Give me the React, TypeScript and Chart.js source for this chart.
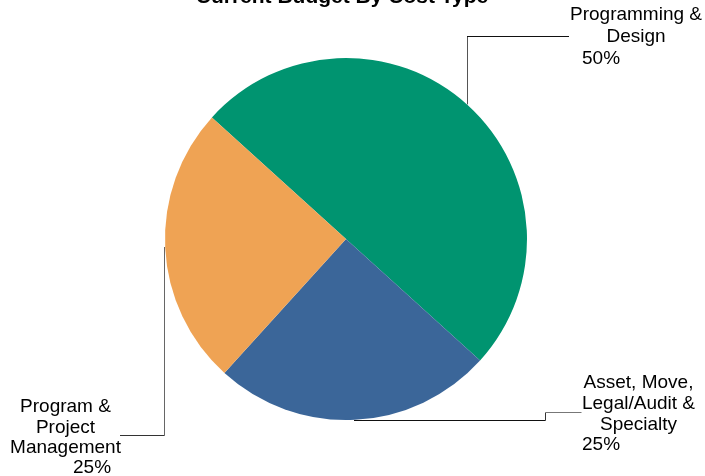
import React, { useEffect, useRef } from "react";
import { Chart, registerables } from "chart.js";

Chart.register(...registerables);

const titleText = "Current Budget By Cost Type";
const categories = [
  "Programming & Design",
  "Asset, Move, Legal/Audit & Specialty",
  "Program & Project Management",
];
const categoryLines = [
  ["Programming &", "Design"],
  ["Asset, Move,", "Legal/Audit &", "Specialty"],
  ["Program &", "Project", "Management"],
];
const budgetShare = [50, 25, 25];
const sliceColors = ["#009470", "#3B6699", "#EFA354"];

const FONT = "19px 'Liberation Sans', Arial, sans-serif";

const labelPlugin = {
  id: "leaderLabels",
  afterDraw(chart: any) {
    const ctx = chart.ctx as CanvasRenderingContext2D;
    const meta = chart.getDatasetMeta(0);
    const arc = meta.data[0] as any;
    if (!arc) return;
    const cx = arc.x;
    const cy = arc.y;
    const r = arc.outerRadius;
    const total = budgetShare.reduce((a, b) => a + b, 0);
    const pct = budgetShare.map((v) => Math.round((v / total) * 100) + "%");

    ctx.save();
    // title
    ctx.fillStyle = "#000";
    ctx.font = "bold 21px 'Liberation Sans', Arial, sans-serif";
    ctx.textAlign = "center";
    ctx.textBaseline = "alphabetic";
    ctx.fillText(titleText, 342, 3);

    ctx.lineWidth = 1;
    const seg = (x1: number, y1: number, x2: number, y2: number, c: string) => {
      ctx.strokeStyle = c;
      ctx.beginPath();
      ctx.moveTo(x1, y1);
      ctx.lineTo(x2, y2);
      ctx.stroke();
    };

    // Green leader
    const gx = cx + 121;
    const gy = cy - Math.sqrt(r * r - 121 * 121);
    seg(Math.round(gx) + 0.5, gy, Math.round(gx) + 0.5, 36.5, "#555");
    seg(Math.round(gx), 36.5, 569, 36.5, "#111");

    // Blue leader
    const by = Math.round(cy + r) + 0.5;
    seg(cx + 8, by, 545.5, by, "#111");
    seg(545.5, by, 545.5, 412.5, "#333");
    seg(545.5, 412.5, 581.5, 412.5, "#777");

    // Orange leader
    const ox = Math.round(cx - r) - 0.5;
    seg(ox, cy + 8, ox, 435.5, "#666");
    seg(ox, 435.5, 120, 435.5, "#333");

    ctx.fillStyle = "#000";
    ctx.font = FONT;
    // Green text
    ctx.textAlign = "center";
    categoryLines[0].forEach((t, i) => ctx.fillText(t, 636, 20 + i * 22));
    ctx.textAlign = "left";
    ctx.fillText(pct[0], 582, 64);

    // Blue text
    ctx.textAlign = "center";
    categoryLines[1].forEach((t, i) => ctx.fillText(t, 638.5, 388 + i * 21));
    ctx.textAlign = "left";
    ctx.fillText(pct[1], 582, 450);

    // Orange text
    ctx.textAlign = "center";
    categoryLines[2].forEach((t, i) => ctx.fillText(t, 65.5, 412 + i * 20.7));
    ctx.textAlign = "left";
    ctx.fillText(pct[2], 73, 473);

    ctx.restore();
  },
};

export default function App() {
  const ref = useRef<HTMLCanvasElement | null>(null);
  useEffect(() => {
    if (!ref.current) return;
    const chart = new Chart(ref.current, {
      type: "pie",
      data: {
        labels: categories,
        datasets: [
          {
            data: budgetShare,
            backgroundColor: sliceColors,
            borderWidth: 0,
          },
        ],
      },
      options: {
        animation: false,
        responsive: true,
        maintainAspectRatio: false,
        rotation: -47.8,
        layout: { padding: { left: 165, right: 178, top: 58, bottom: 56 } },
        plugins: {
          legend: { display: false },
          tooltip: { enabled: false },
          title: { display: false },
        },
      },
      plugins: [labelPlugin],
    });
    return () => chart.destroy();
  }, []);
  return (
    <div style={{ position: "fixed", left: 0, top: 0, width: 705, height: 476, background: "#fff" }}>
      <canvas ref={ref} />
    </div>
  );
}
